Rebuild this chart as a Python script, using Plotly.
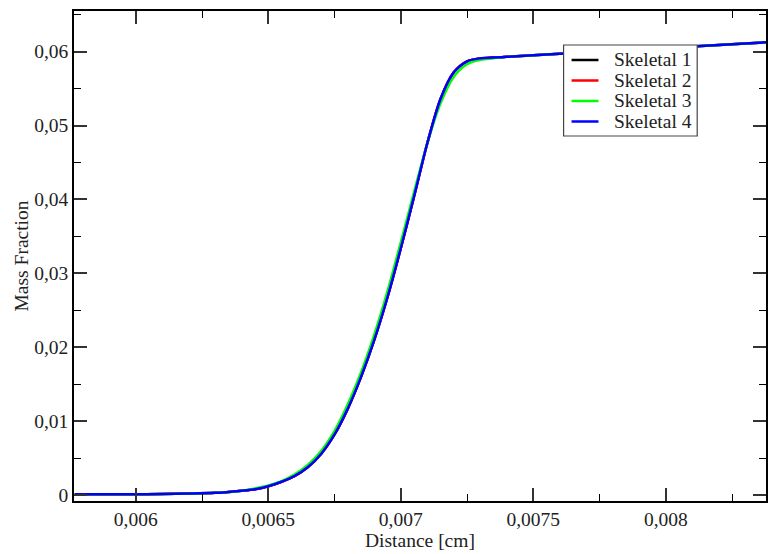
import plotly.graph_objects as go

distance = [0.00577, 0.0060, 0.0061, 0.0062, 0.0063, 0.0064, 0.00645, 0.0065, 0.00655,
            0.0066, 0.00665, 0.0067, 0.00675, 0.0068, 0.00685, 0.0069, 0.00695, 0.0070,
            0.00705, 0.0071, 0.00715, 0.0072, 0.00725, 0.0073, 0.00735, 0.0074, 0.0075,
            0.0076, 0.0077, 0.0078, 0.0079, 0.0080, 0.0081, 0.0082, 0.0083, 0.0084]

skeletal1 = [0.0001, 0.0001, 0.00015, 0.0002, 0.0003, 0.0006, 0.0008, 0.0012, 0.0018,
             0.0026, 0.0038, 0.0056, 0.0082, 0.0117, 0.0160, 0.0210, 0.0268, 0.0334,
             0.0404, 0.0476, 0.0536, 0.0572, 0.0587, 0.0591, 0.0592, 0.0593, 0.0595,
             0.0597, 0.0599, 0.0601, 0.0603, 0.0605, 0.0607, 0.0609, 0.0611, 0.0613]
skeletal2 = [0.0001, 0.0001, 0.00015, 0.0002, 0.0003, 0.0006, 0.0008, 0.0012, 0.0018,
             0.0026, 0.0038, 0.0056, 0.0082, 0.0117, 0.0160, 0.0210, 0.0268, 0.0334,
             0.0404, 0.0476, 0.0536, 0.0572, 0.0587, 0.0591, 0.0592, 0.0593, 0.0595,
             0.0597, 0.0599, 0.0601, 0.0603, 0.0605, 0.0607, 0.0609, 0.0611, 0.0613]
skeletal3 = [0.0001, 0.0001, 0.00015, 0.0002, 0.0003, 0.0006, 0.0009, 0.0013, 0.0019,
             0.0028, 0.0041, 0.0060, 0.0087, 0.0123, 0.0166, 0.0217, 0.0276, 0.0342,
             0.0410, 0.0476, 0.0530, 0.0566, 0.0583, 0.0589, 0.0591, 0.0593, 0.0595,
             0.0597, 0.0599, 0.0601, 0.0603, 0.0605, 0.0607, 0.0609, 0.0611, 0.0613]
skeletal4 = [0.0001, 0.0001, 0.00015, 0.0002, 0.0003, 0.0006, 0.0008, 0.0012, 0.0018,
             0.0026, 0.0038, 0.0056, 0.0082, 0.0117, 0.0160, 0.0210, 0.0268, 0.0334,
             0.0404, 0.0476, 0.0536, 0.0572, 0.0587, 0.0591, 0.0592, 0.0593, 0.0595,
             0.0597, 0.0599, 0.0601, 0.0603, 0.0605, 0.0607, 0.0609, 0.0611, 0.0613]

series_names = ["Skeletal 1", "Skeletal 2", "Skeletal 3", "Skeletal 4"]
series_colors = ["#000000", "#ff0000", "#00ff00", "#0000ff"]

x_tickvals = [0.006, 0.0065, 0.007, 0.0075, 0.008]
x_ticktext = ["0,006", "0,0065", "0,007", "0,0075", "0,008"]
y_tickvals = [0, 0.01, 0.02, 0.03, 0.04, 0.05, 0.06]
y_ticktext = ["0", "0,01", "0,02", "0,03", "0,04", "0,05", "0,06"]

font_family = "Liberation Serif"
FS = 19.5
TXT = "#222222"

# plot-area geometry (pixels) for placing the boxed legend
W, H = 769, 554
ML, MR, MT, MB = 74, 1, 11, 53
PW, PH = W - ML - MR, H - MT - MB


def px(xp):
    return (xp - ML) / PW


def py(yp):
    return (H - MB - yp) / PH


fig = go.Figure()
for name, color, vals in zip(series_names, series_colors,
                             [skeletal1, skeletal2, skeletal3, skeletal4]):
    fig.add_trace(go.Scatter(x=distance, y=vals, mode="lines", name=name, showlegend=False,
                             line=dict(color=color, width=2.5, shape="spline", smoothing=0.8)))

# legend box drawn above the curves
shapes = [dict(type="rect", xref="paper", yref="paper", layer="above",
               x0=px(565), x1=px(699), y0=py(136), y1=py(45),
               fillcolor="white", line=dict(color="#444444", width=1.2))]
annotations = []
row_y = [60, 80.5, 101, 121.5]
for name, color, ry in zip(series_names, series_colors, row_y):
    shapes.append(dict(type="line", xref="paper", yref="paper", layer="above",
                       x0=px(573), x1=px(600), y0=py(ry), y1=py(ry),
                       line=dict(color=color, width=2.5)))
    annotations.append(dict(x=px(614), y=py(ry), xref="paper", yref="paper", text=name,
                            showarrow=False, xanchor="left", yanchor="middle",
                            font=dict(family=font_family, size=FS, color=TXT)))

axis_common = dict(
    showline=True, linecolor="black", linewidth=1.5, mirror="allticks",
    ticks="inside", ticklen=13, tickwidth=1.5, tickcolor="#333333",
    showgrid=False, zeroline=False,
    tickfont=dict(family=font_family, size=FS, color=TXT),
)

fig.update_xaxes(
    range=[0.005767, 0.008378], tickmode="array", tickvals=x_tickvals, ticktext=x_ticktext,
    minor=dict(tickmode="linear", tick0=0.006, dtick=0.00025, ticks="inside", ticklen=7,
               tickwidth=1.2, tickcolor="#000000", showgrid=False),
    title=dict(text="Distance [cm]", font=dict(family=font_family, size=FS, color=TXT),
               standoff=0),
    **axis_common,
)
fig.update_yaxes(
    range=[-0.0008, 0.0655], tickmode="array", tickvals=y_tickvals, ticktext=y_ticktext,
    minor=dict(tickmode="linear", tick0=0, dtick=0.005, ticks="inside", ticklen=7,
               tickwidth=1.2, tickcolor="#000000", showgrid=False),
    title=dict(text="Mass Fraction", font=dict(family=font_family, size=FS, color=TXT),
               standoff=0),
    **axis_common,
)

fig.update_layout(
    width=W, height=H,
    margin=dict(l=ML, r=MR, t=MT, b=MB),
    paper_bgcolor="white", plot_bgcolor="white",
    font=dict(family=font_family, size=FS, color=TXT),
    showlegend=False,
    shapes=shapes,
    annotations=annotations,
)

fig.write_html("out.html")
